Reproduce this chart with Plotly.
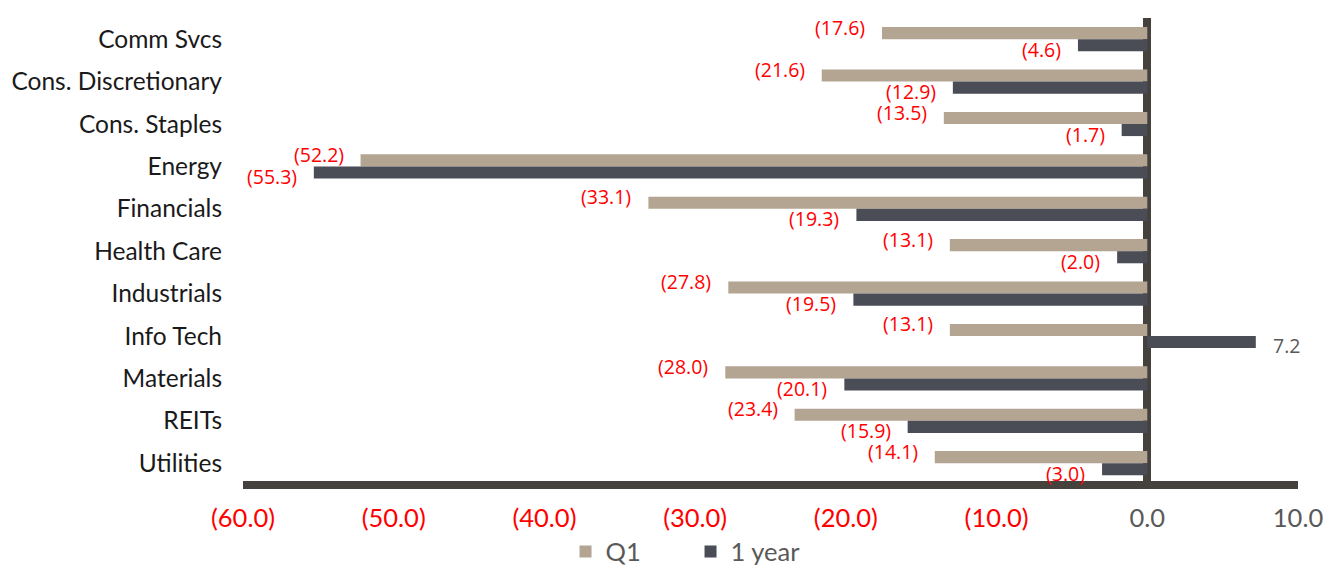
import plotly.graph_objects as go

categories = ["Comm Svcs", "Cons. Discretionary", "Cons. Staples", "Energy", "Financials",
              "Health Care", "Industrials", "Info Tech", "Materials", "REITs", "Utilities"]
q1 = [-17.6, -21.6, -13.5, -52.2, -33.1, -13.1, -27.8, -13.1, -28.0, -23.4, -14.1]
one_year = [-4.6, -12.9, -1.7, -55.3, -19.3, -2.0, -19.5, 7.2, -20.1, -15.9, -3.0]
tick_vals = [-60, -50, -40, -30, -20, -10, 0, 10]

C_Q1 = "#b3a591"
C_1Y = "#4a4c56"
AXIS = "#45423d"
RED = "#ff0000"
GRAY = "#595959"


def fmt(v):
    return f"({abs(v):.1f})" if v < 0 else f"{v:.1f}"


tick_text = [
    f"<span style='color:{RED if v < 0 else GRAY}'>{fmt(v)}</span>" for v in tick_vals
]

fig = go.Figure()
fig.add_trace(go.Bar(y=categories, x=q1, orientation="h", name="Q1",
                     marker=dict(color=C_Q1, line=dict(width=0))))
fig.add_trace(go.Bar(y=categories, x=one_year, orientation="h", name="1 year",
                     marker=dict(color=C_1Y, line=dict(width=0))))

annotations = []
for vals, yshift in ((q1, 12), (one_year, -10)):
    for cat, v in zip(categories, vals):
        annotations.append(dict(
            x=v, y=cat, xref="x", yref="y", text=fmt(v), showarrow=False,
            xanchor="right" if v < 0 else "left", xshift=-15 if v < 0 else 15,
            yshift=yshift,
            font=dict(family="Open Sans, sans-serif", size=19.5,
                      color=RED if v < 0 else GRAY),
        ))

n = len(categories)
fig.update_layout(
    annotations=annotations,
    barmode="group",
    bargap=0.43,
    bargroupgap=0,
    width=1336, height=566,
    margin=dict(l=243, r=38, t=18, b=85, autoexpand=False),
    plot_bgcolor="white", paper_bgcolor="white",
    font=dict(family="Lato, sans-serif", size=20, color="#1a1a1a"),
    showlegend=True,
    legend=dict(orientation="h", x=0.4242, xanchor="center", y=-0.153, yanchor="middle",
                bgcolor="rgba(0,0,0,0)",
                font=dict(size=25.5, color=GRAY), entrywidth=80, itemwidth=30,
                traceorder="normal"),
    xaxis=dict(range=[-60, 10], tickvals=tick_vals, ticktext=tick_text,
               showgrid=False, zeroline=True, zerolinecolor=AXIS, zerolinewidth=8,
               showline=True, linecolor=AXIS, linewidth=8, ticks="", automargin=False,
               tickfont=dict(size=25.5), ticklabelstandoff=7),
    yaxis=dict(range=[n - 0.58, -0.5], showgrid=False, showline=False, ticks="",
               automargin=False,
               tickfont=dict(size=24.5, color="#1a1a1a"), ticklabelstandoff=20),
)

fig.write_html("out.html")
